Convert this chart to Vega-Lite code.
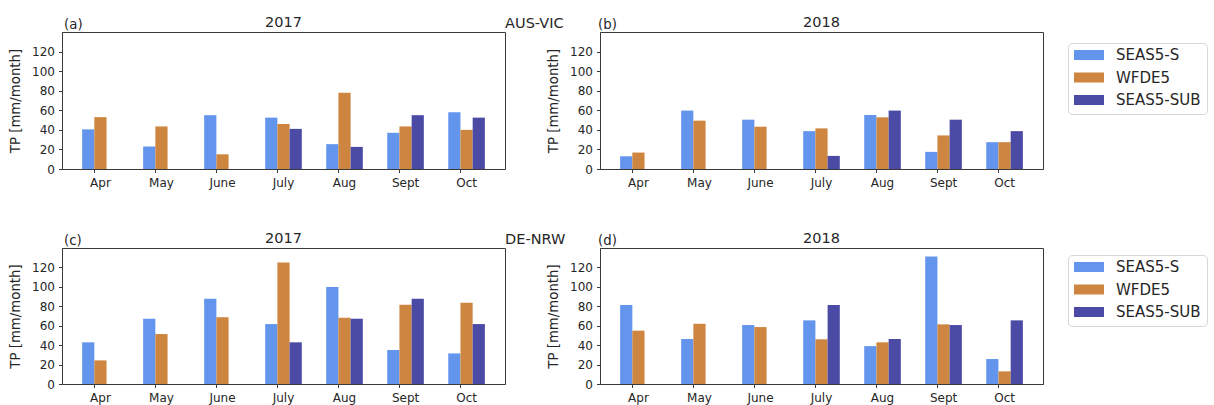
{
  "$schema": "https://vega.github.io/schema/vega-lite/v6.json",
  "padding": {"left": 8, "top": 14, "right": 5, "bottom": 5},
  "background": "white",
  "config": {
    "font": "DejaVu Sans",
    "view": {"stroke": "#3a3a3a", "strokeWidth": 1},
    "axis": {
      "labelFont": "DejaVu Sans", "labelFontSize": 12, "labelColor": "#262626",
      "titleFont": "DejaVu Sans", "titleFontSize": 13.3, "titleFontWeight": "normal", "titleColor": "#262626",
      "tickColor": "#3a3a3a", "domainColor": "#3a3a3a", "grid": false, "tickSize": 3.5
    },
    "title": {"font": "DejaVu Sans", "fontSize": 14.5, "fontWeight": "normal", "color": "#262626"},
    "legend": {
      "orient": "none", "legendX": 1006, "title": null,
      "labelFont": "DejaVu Sans", "labelFontSize": 15, "labelColor": "#262626", "labelOffset": 12,
      "symbolType": "M-1,-0.333H1V0.333H-1Z", "symbolSize": 900, "symbolStrokeWidth": 0,
      "clipHeight": 12, "rowPadding": 7.5,
      "strokeColor": "#d6d6d6", "cornerRadius": 4, "padding": 6, "fillColor": "white"
    },
    "concat": {"spacing": 40}
  },
  "datasets": {
    "aus": [
      {"year": 2017, "month": "Apr", "series": "SEAS5-S", "tp": 40.5},
      {"year": 2017, "month": "Apr", "series": "WFDE5", "tp": 53},
      {"year": 2017, "month": "May", "series": "SEAS5-S", "tp": 23},
      {"year": 2017, "month": "May", "series": "WFDE5", "tp": 43.5},
      {"year": 2017, "month": "June", "series": "SEAS5-S", "tp": 55},
      {"year": 2017, "month": "June", "series": "WFDE5", "tp": 15},
      {"year": 2017, "month": "July", "series": "SEAS5-S", "tp": 52.5},
      {"year": 2017, "month": "July", "series": "WFDE5", "tp": 46},
      {"year": 2017, "month": "July", "series": "SEAS5-SUB", "tp": 41},
      {"year": 2017, "month": "Aug", "series": "SEAS5-S", "tp": 25.4},
      {"year": 2017, "month": "Aug", "series": "WFDE5", "tp": 78},
      {"year": 2017, "month": "Aug", "series": "SEAS5-SUB", "tp": 22.6},
      {"year": 2017, "month": "Sept", "series": "SEAS5-S", "tp": 37},
      {"year": 2017, "month": "Sept", "series": "WFDE5", "tp": 43.5},
      {"year": 2017, "month": "Sept", "series": "SEAS5-SUB", "tp": 55},
      {"year": 2017, "month": "Oct", "series": "SEAS5-S", "tp": 58},
      {"year": 2017, "month": "Oct", "series": "WFDE5", "tp": 40},
      {"year": 2017, "month": "Oct", "series": "SEAS5-SUB", "tp": 52.5},
      {"year": 2018, "month": "Apr", "series": "SEAS5-S", "tp": 13},
      {"year": 2018, "month": "Apr", "series": "WFDE5", "tp": 16.8},
      {"year": 2018, "month": "May", "series": "SEAS5-S", "tp": 59.7},
      {"year": 2018, "month": "May", "series": "WFDE5", "tp": 49.4},
      {"year": 2018, "month": "June", "series": "SEAS5-S", "tp": 50.4},
      {"year": 2018, "month": "June", "series": "WFDE5", "tp": 43.2},
      {"year": 2018, "month": "July", "series": "SEAS5-S", "tp": 38.7},
      {"year": 2018, "month": "July", "series": "WFDE5", "tp": 41.5},
      {"year": 2018, "month": "July", "series": "SEAS5-SUB", "tp": 13.4},
      {"year": 2018, "month": "Aug", "series": "SEAS5-S", "tp": 55.2},
      {"year": 2018, "month": "Aug", "series": "WFDE5", "tp": 52.8},
      {"year": 2018, "month": "Aug", "series": "SEAS5-SUB", "tp": 59.7},
      {"year": 2018, "month": "Sept", "series": "SEAS5-S", "tp": 17.5},
      {"year": 2018, "month": "Sept", "series": "WFDE5", "tp": 34.3},
      {"year": 2018, "month": "Sept", "series": "SEAS5-SUB", "tp": 50.4},
      {"year": 2018, "month": "Oct", "series": "SEAS5-S", "tp": 27.4},
      {"year": 2018, "month": "Oct", "series": "WFDE5", "tp": 27.4},
      {"year": 2018, "month": "Oct", "series": "SEAS5-SUB", "tp": 38.7}
    ],
    "de": [
      {"year": 2017, "month": "Apr", "series": "SEAS5-S", "tp": 42.9},
      {"year": 2017, "month": "Apr", "series": "WFDE5", "tp": 24.3},
      {"year": 2017, "month": "May", "series": "SEAS5-S", "tp": 67.2},
      {"year": 2017, "month": "May", "series": "WFDE5", "tp": 51.4},
      {"year": 2017, "month": "June", "series": "SEAS5-S", "tp": 87.8},
      {"year": 2017, "month": "June", "series": "WFDE5", "tp": 68.6},
      {"year": 2017, "month": "July", "series": "SEAS5-S", "tp": 61.7},
      {"year": 2017, "month": "July", "series": "WFDE5", "tp": 125},
      {"year": 2017, "month": "July", "series": "SEAS5-SUB", "tp": 42.9},
      {"year": 2017, "month": "Aug", "series": "SEAS5-S", "tp": 99.8},
      {"year": 2017, "month": "Aug", "series": "WFDE5", "tp": 68.2},
      {"year": 2017, "month": "Aug", "series": "SEAS5-SUB", "tp": 67.2},
      {"year": 2017, "month": "Sept", "series": "SEAS5-S", "tp": 35},
      {"year": 2017, "month": "Sept", "series": "WFDE5", "tp": 81.6},
      {"year": 2017, "month": "Sept", "series": "SEAS5-SUB", "tp": 87.8},
      {"year": 2017, "month": "Oct", "series": "SEAS5-S", "tp": 31.5},
      {"year": 2017, "month": "Oct", "series": "WFDE5", "tp": 83.6},
      {"year": 2017, "month": "Oct", "series": "SEAS5-SUB", "tp": 61.7},
      {"year": 2018, "month": "Apr", "series": "SEAS5-S", "tp": 81.3},
      {"year": 2018, "month": "Apr", "series": "WFDE5", "tp": 54.9},
      {"year": 2018, "month": "May", "series": "SEAS5-S", "tp": 46.3},
      {"year": 2018, "month": "May", "series": "WFDE5", "tp": 62},
      {"year": 2018, "month": "June", "series": "SEAS5-S", "tp": 60.7},
      {"year": 2018, "month": "June", "series": "WFDE5", "tp": 58.6},
      {"year": 2018, "month": "July", "series": "SEAS5-S", "tp": 65.5},
      {"year": 2018, "month": "July", "series": "WFDE5", "tp": 46},
      {"year": 2018, "month": "July", "series": "SEAS5-SUB", "tp": 81.3},
      {"year": 2018, "month": "Aug", "series": "SEAS5-S", "tp": 39},
      {"year": 2018, "month": "Aug", "series": "WFDE5", "tp": 42.9},
      {"year": 2018, "month": "Aug", "series": "SEAS5-SUB", "tp": 46.3},
      {"year": 2018, "month": "Sept", "series": "SEAS5-S", "tp": 131.3},
      {"year": 2018, "month": "Sept", "series": "WFDE5", "tp": 61.4},
      {"year": 2018, "month": "Sept", "series": "SEAS5-SUB", "tp": 60.7},
      {"year": 2018, "month": "Oct", "series": "SEAS5-S", "tp": 25.7},
      {"year": 2018, "month": "Oct", "series": "WFDE5", "tp": 13},
      {"year": 2018, "month": "Oct", "series": "SEAS5-SUB", "tp": 65.5}
    ]
  },
  "spacing": 41,
  "vconcat": [
    {
      "title": {"text": "AUS-VIC", "anchor": "start", "dx": 497, "offset": -17},
      "hconcat": [
        {
          "title": {"text": "(a)", "anchor": "start", "fontSize": 13.3, "offset": -17, "dx": 56},
          "vconcat": [{
            "title": {"text": "2017", "offset": 2},
            "data": {"name": "aus"},
            "transform": [{"filter": "datum.year == 2017"}],
            "width": 443, "height": 137,
            "mark": "bar",
            "encoding": {
              "x": {"field": "month", "type": "ordinal", "sort": ["Apr","May","June","July","Aug","Sept","Oct"], "scale": {"paddingInner": 0.4, "paddingOuter": 0.33}, "axis": {"title": null, "labelAngle": 0, "bandPosition": 0.3333, "labelPadding": 5}},
              "xOffset": {"field": "series", "type": "nominal", "sort": ["SEAS5-S","WFDE5","SEAS5-SUB"], "scale": {"domain": ["SEAS5-S","WFDE5","SEAS5-SUB"], "paddingInner": 0, "paddingOuter": 0}},
              "y": {"field": "tp", "type": "quantitative", "scale": {"domain": [0, 140], "nice": false}, "axis": {"title": "TP [mm/month]", "values": [0,20,40,60,80,100,120], "labelPadding": 4, "titlePadding": 9}},
              "color": {"field": "series", "type": "nominal", "scale": {"domain": ["SEAS5-S","WFDE5","SEAS5-SUB"], "range": ["#6495ED","#CD853F","#4B4BA6"]}, "legend": {"legendY": 11}}
            }
          }]
        },
        {
          "title": {"text": "(b)", "anchor": "start", "fontSize": 13.3, "offset": -17, "dx": 52},
          "vconcat": [{
            "title": {"text": "2018", "offset": 2},
            "data": {"name": "aus"},
            "transform": [{"filter": "datum.year == 2018"}],
            "width": 443, "height": 137,
            "mark": "bar",
            "encoding": {
              "x": {"field": "month", "type": "ordinal", "sort": ["Apr","May","June","July","Aug","Sept","Oct"], "scale": {"paddingInner": 0.4, "paddingOuter": 0.33}, "axis": {"title": null, "labelAngle": 0, "bandPosition": 0.3333, "labelPadding": 5}},
              "xOffset": {"field": "series", "type": "nominal", "sort": ["SEAS5-S","WFDE5","SEAS5-SUB"], "scale": {"domain": ["SEAS5-S","WFDE5","SEAS5-SUB"], "paddingInner": 0, "paddingOuter": 0}},
              "y": {"field": "tp", "type": "quantitative", "scale": {"domain": [0, 140], "nice": false}, "axis": {"title": "TP [mm/month]", "values": [0,20,40,60,80,100,120], "labelPadding": 4, "titlePadding": 9}},
              "color": {"field": "series", "type": "nominal", "scale": {"domain": ["SEAS5-S","WFDE5","SEAS5-SUB"], "range": ["#6495ED","#CD853F","#4B4BA6"]}, "legend": {"legendY": 11}}
            }
          }]
        }
      ]
    },
    {
      "title": {"text": "DE-NRW", "anchor": "start", "dx": 497, "offset": -17},
      "hconcat": [
        {
          "title": {"text": "(c)", "anchor": "start", "fontSize": 13.3, "offset": -17, "dx": 56},
          "vconcat": [{
            "title": {"text": "2017", "offset": 2},
            "data": {"name": "de"},
            "transform": [{"filter": "datum.year == 2017"}],
            "width": 443, "height": 136,
            "mark": "bar",
            "encoding": {
              "x": {"field": "month", "type": "ordinal", "sort": ["Apr","May","June","July","Aug","Sept","Oct"], "scale": {"paddingInner": 0.4, "paddingOuter": 0.33}, "axis": {"title": null, "labelAngle": 0, "bandPosition": 0.3333, "labelPadding": 5}},
              "xOffset": {"field": "series", "type": "nominal", "sort": ["SEAS5-S","WFDE5","SEAS5-SUB"], "scale": {"domain": ["SEAS5-S","WFDE5","SEAS5-SUB"], "paddingInner": 0, "paddingOuter": 0}},
              "y": {"field": "tp", "type": "quantitative", "scale": {"domain": [0, 140], "nice": false}, "axis": {"title": "TP [mm/month]", "values": [0,20,40,60,80,100,120], "labelPadding": 4, "titlePadding": 9}},
              "color": {"field": "series", "type": "nominal", "scale": {"domain": ["SEAS5-S","WFDE5","SEAS5-SUB"], "range": ["#6495ED","#CD853F","#4B4BA6"]}, "legend": {"legendY": 7}}
            }
          }]
        },
        {
          "title": {"text": "(d)", "anchor": "start", "fontSize": 13.3, "offset": -17, "dx": 52},
          "vconcat": [{
            "title": {"text": "2018", "offset": 2},
            "data": {"name": "de"},
            "transform": [{"filter": "datum.year == 2018"}],
            "width": 443, "height": 136,
            "mark": "bar",
            "encoding": {
              "x": {"field": "month", "type": "ordinal", "sort": ["Apr","May","June","July","Aug","Sept","Oct"], "scale": {"paddingInner": 0.4, "paddingOuter": 0.33}, "axis": {"title": null, "labelAngle": 0, "bandPosition": 0.3333, "labelPadding": 5}},
              "xOffset": {"field": "series", "type": "nominal", "sort": ["SEAS5-S","WFDE5","SEAS5-SUB"], "scale": {"domain": ["SEAS5-S","WFDE5","SEAS5-SUB"], "paddingInner": 0, "paddingOuter": 0}},
              "y": {"field": "tp", "type": "quantitative", "scale": {"domain": [0, 140], "nice": false}, "axis": {"title": "TP [mm/month]", "values": [0,20,40,60,80,100,120], "labelPadding": 4, "titlePadding": 9}},
              "color": {"field": "series", "type": "nominal", "scale": {"domain": ["SEAS5-S","WFDE5","SEAS5-SUB"], "range": ["#6495ED","#CD853F","#4B4BA6"]}, "legend": {"legendY": 7}}
            }
          }]
        }
      ]
    }
  ],
  "resolve": {"legend": {"color": "independent"}}
}
